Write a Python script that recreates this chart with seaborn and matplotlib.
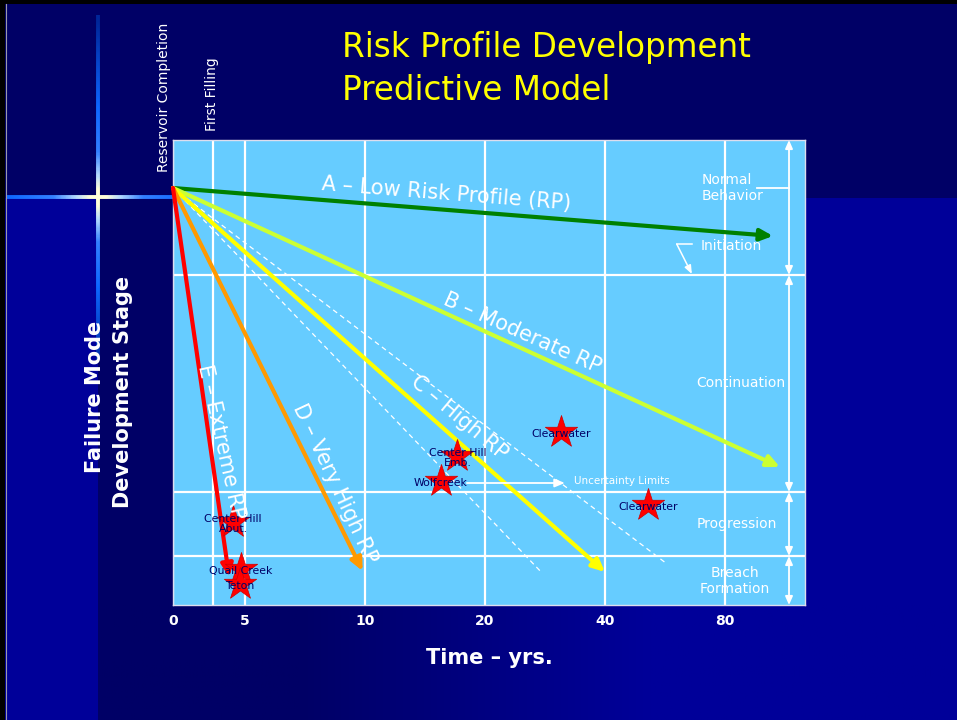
import numpy as np
import pandas as pd
import matplotlib
matplotlib.use("Agg")
import matplotlib.pyplot as plt
import seaborn as sns
from matplotlib.patches import Rectangle
from matplotlib.collections import LineCollection

# ---------------- data ----------------
tick_years = [0, 2.8, 5, 10, 20, 40, 80]
tick_labels = ["0", "", "5", "10", "20", "40", "80"]
stage_bounds = [135, 352, 416]          # stage-depth of boundaries between failure stages
origin_year, origin_stage = 0, 48

profile_names = ["A – Low Risk Profile (RP)", "B – Moderate RP", "C – High RP",
                 "D – Very High RP", "E – Extreme RP"]
profile_end_year = [96, 98.3, 40, 9.9, 3.9]
profile_end_stage = [96, 327, 432, 431, 437]
profile_colors = ["#008000", "#CCFF33", "#FFFF00", "#FF9900", "#FF0000"]

uncert_end_year = [60.7, 29.2]
uncert_end_stage = [424, 431]

dam_names = ["Clearwater", "Clearwater", "Center Hill\nEmb.", "Wolfcreek",
             "Center Hill\nAbut.", "Quail Creek", "Teton"]
dam_year = [32.7, 54.3, 17.7, 16.3, 4.17, 4.72, 4.65]
dam_stage = [292, 365, 316, 341, 382, 429, 444]

stage_labels = ["Normal\nBehavior", "Initiation", "Continuation", "Progression", "Breach\nFormation"]

# axis mapping of the (non-linear) time axis
AX_YEARS = [0, 5, 10, 20, 40, 80, 120]
AX_POS = [0, 72, 192, 312, 432, 552, 672]


def fwd(x):
    return np.interp(x, AX_YEARS, AX_POS)


def inv(p):
    return np.interp(p, AX_POS, AX_YEARS)


W, H = 957, 720
fig = plt.figure(figsize=(W / 100, H / 100), dpi=100, facecolor="#000099")

# ---------------- background ----------------
bg = fig.add_axes([0, 0, 1, 1], zorder=0)
bg.set_xlim(0, W)
bg.set_ylim(H, 0)
bg.axis("off")
DARK = "#000066"
bg.add_patch(Rectangle((0, 0), W, 198, color=DARK, lw=0))
bg.add_patch(Rectangle((98, 198), 805 - 98, 605 - 198, color=DARK, lw=0))
# bottom gradient
c0 = np.array([0, 0, 0x66]) / 255
c1 = np.array([0, 0, 0x99]) / 255
xs = np.linspace(98, W, 400)
t = np.clip((xs - 300) / 350, 0, 1)
img = (c0[None, :] * (1 - t[:, None]) + c1[None, :] * t[:, None])[None, :, :]
bg.imshow(img, extent=(98, W, 720, 605), aspect="auto", zorder=0.5)
bg.set_xlim(0, W)
bg.set_ylim(H, 0)
bg.add_patch(Rectangle((0, 0), 5, H, color="black", lw=0, zorder=3))
bg.add_patch(Rectangle((0, 0), W, 4, color="black", lw=0, zorder=3))
bg.plot([5.5, 5.5], [4, H], color="#9999AA", lw=0.8, zorder=3)


def glow_color(d, far):
    stops_d = [0, 8, 22, 45, 90, far]
    r = [1.0, 1.0, 0.7, 0.2, 0.05, 0.0]
    g = [1.0, 1.0, 0.85, 0.5, 0.4, 0.15]
    b = [0.85, 0.85, 1.0, 1.0, 1.0, 0.6]
    return (np.interp(d, stops_d, r), np.interp(d, stops_d, g), np.interp(d, stops_d, b))


cx, cy = 98, 197
hx = np.linspace(6, 173, 200)
segs = [[(hx[i], cy), (hx[i + 1], cy)] for i in range(len(hx) - 1)]
cols = [glow_color(abs((hx[i] + hx[i + 1]) / 2 - cx), 150) for i in range(len(hx) - 1)]
bg.add_collection(LineCollection(segs, colors=cols, linewidths=2.8, zorder=2))
vy = np.linspace(15, 360, 300)
segs = [[(cx, vy[i]), (cx, vy[i + 1])] for i in range(len(vy) - 1)]
cols = [glow_color(abs((vy[i] + vy[i + 1]) / 2 - cy), 175) for i in range(len(vy) - 1)]
bg.add_collection(LineCollection(segs, colors=cols, linewidths=2.8, zorder=2))

# titles / outer texts
bg.text(342, 57, "Risk Profile Development", color="#FFFF00", fontsize=23.5,
        ha="left", va="baseline", family="DejaVu Sans")
bg.text(342, 100, "Predictive Model", color="#FFFF00", fontsize=23.5,
        ha="left", va="baseline", family="DejaVu Sans")
bg.text(164, 172, "Reservoir Completion", color="white", fontsize=10, rotation=90,
        ha="center", va="bottom")
bg.text(212, 131, "First Filling", color="white", fontsize=10, rotation=90,
        ha="center", va="bottom")
bg.text(95, 397, "Failure Mode", color="white", fontsize=15, fontweight="bold",
        rotation=90, ha="center", va="center")
bg.text(123, 392, "Development Stage", color="white", fontsize=15, fontweight="bold",
        rotation=90, ha="center", va="center")
bg.text(489, 658, "Time – yrs.", color="white", fontsize=15, fontweight="bold",
        ha="center", va="center")

# ---------------- main plot ----------------
ax = fig.add_axes([173 / W, (H - 605) / H, 632 / W, 465 / H], zorder=1)
ax.set_facecolor("#66CCFF")
ax.set_xscale("function", functions=(fwd, inv))

# uncertainty limits (dashed)
for ye, se in zip(uncert_end_year, uncert_end_stage):
    sns.lineplot(x=[origin_year, ye], y=[origin_stage, se], ax=ax, color="white",
                 lw=0.9, linestyle=(0, (4, 3)), zorder=3)

# risk profile arrows
for name, ye, se, c in zip(profile_names, profile_end_year, profile_end_stage, profile_colors):
    ax.annotate("", xy=(ye, se), xytext=(origin_year, origin_stage),
                arrowprops=dict(arrowstyle="-|>,head_length=0.75,head_width=0.35",
                                color=c, lw=3.0, shrinkA=0, shrinkB=0), zorder=4)

# dam stars
dams = pd.DataFrame({"year": dam_year, "stage": dam_stage, "name": dam_names})
sns.scatterplot(data=dams, x="year", y="stage", marker="*", s=600, color="#FF0000",
                edgecolor="#CC0000", linewidth=0.5, ax=ax, zorder=5)
for _, r in dams.iterrows():
    ax.annotate(r["name"], xy=(r["year"], r["stage"]), xytext=(0, -1.5),
                textcoords="offset points", ha="center", va="center", fontsize=7.8,
                color="#000066", linespacing=1.05, zorder=6)

ax.set_xlim(0, inv(632))
ax.set_ylim(465, 0)
ax.set_xticks(tick_years)
ax.set_xticklabels(tick_labels)
ax.set_yticks(stage_bounds)
ax.set_yticklabels([])
ax.grid(True, color="white", lw=1.6, zorder=1)
ax.set_axisbelow(True)
ax.tick_params(axis="both", length=0)
ax.tick_params(axis="x", pad=6.5, labelsize=10, labelcolor="white")
for lab in ax.get_xticklabels():
    lab.set_fontweight("bold")
ax.set_xlabel("")
ax.set_ylabel("")
for sp in ax.spines.values():
    sp.set_color("#DDDDEE")
    sp.set_linewidth(1)

# right-side stage arrows (axes-fraction x, data y)
yt = ax.get_yaxis_transform()
edges = [0] + stage_bounds + [465]
for a, b in zip(edges[:-1], edges[1:]):
    ax.annotate("", xy=(0.9747, b), xytext=(0.9747, a), xycoords=yt, textcoords=yt,
                arrowprops=dict(arrowstyle="<|-|>,head_length=0.5,head_width=0.22",
                                color="white", lw=1.3, shrinkA=0, shrinkB=0), zorder=6)
ax.plot([0.924, 0.9747], [48, 48], transform=yt, color="white", lw=1.3, zorder=6)
ax.plot([0.821, 0.797], [104, 104], transform=yt, color="white", lw=1.1, zorder=6)
ax.annotate("", xy=(0.821, 134), xytext=(0.797, 104), xycoords=yt, textcoords=yt,
            arrowprops=dict(arrowstyle="-|>,head_length=0.5,head_width=0.2",
                            color="white", lw=1.1, shrinkA=0, shrinkB=0), zorder=6)
ax.annotate("", xy=(0.620, 343), xytext=(0.465, 343), xycoords=yt, textcoords=yt,
            arrowprops=dict(arrowstyle="-|>,head_length=0.6,head_width=0.25",
                            color="white", lw=1.3, shrinkA=0, shrinkB=0), zorder=6)
ax.text(0.710, 341, "Uncertainty Limits", transform=yt, color="white", fontsize=7.5,
        ha="center", va="center", zorder=6)

ax.text(0.837, 48, stage_labels[0], transform=yt, color="white", fontsize=10,
        ha="left", va="center", linespacing=1.15, zorder=6)
ax.text(0.835, 106, stage_labels[1], transform=yt, color="white", fontsize=10,
        ha="left", va="center", zorder=6)
ax.text(0.899, 243, stage_labels[2], transform=yt, color="white", fontsize=10,
        ha="center", va="center", zorder=6)
ax.text(0.892, 384, stage_labels[3], transform=yt, color="white", fontsize=10,
        ha="center", va="center", zorder=6)
ax.text(0.889, 441, stage_labels[4], transform=yt, color="white", fontsize=10,
        ha="center", va="center", linespacing=1.15, zorder=6)

# ---------------- overlay for the rotated profile labels ----------------
ov = fig.add_axes([0, 0, 1, 1], zorder=2)
ov.set_xlim(0, W)
ov.set_ylim(H, 0)
ov.axis("off")
ov.patch.set_alpha(0)
label_pos = [(446, 194, -4.5), (522, 333, -24), (459, 418, -40), (335, 484, -65), (221, 442, -77.5)]
for name, (x, y, rot) in zip(profile_names, label_pos):
    ov.text(x, y, name, color="white", fontsize=15, rotation=rot,
            rotation_mode="anchor", ha="center", va="center")

fig.savefig("out.png", dpi=100, facecolor=fig.get_facecolor())
